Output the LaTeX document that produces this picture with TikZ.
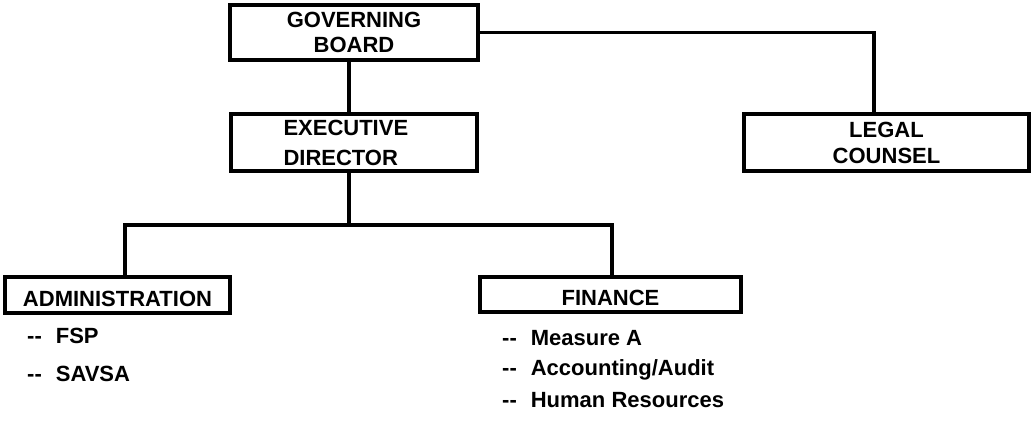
\documentclass[tikz,border=0pt]{standalone}
\usepackage{fontspec}
\setmainfont{Liberation Sans}

\tikzset{
  unit/.style={draw, line width=3.5pt, inner sep=0pt,
    font=\bfseries\fontsize{22}{25}\selectfont},
  wire/.style={line width=3.5pt},
  item/.style={anchor=base west, inner sep=0pt,
    font=\bfseries\fontsize{22}{25}\selectfont},
}
\newcommand{\dashlead}{-\kern0pt-\hspace{14pt}}

\begin{document}
\begin{tikzpicture}[x=1pt,y=-1pt]
\useasboundingbox (0,0) rectangle (1032,423);
% boxes
\node[unit, minimum width=248pt, minimum height=55pt, align=center] (gov) at (354,32.5) {GOVERNING\\BOARD};
\node[unit, minimum width=246pt, minimum height=57pt, align=left, text width=141pt,
  font=\bfseries\fontsize{22}{30}\selectfont] (exec) at (354,142.5) {EXECUTIVE\\DIRECTOR};
\node[unit, minimum width=285pt, minimum height=57pt, align=center,
  font=\bfseries\fontsize{22}{26}\selectfont] (legal) at (886.5,142.5) {LEGAL\\COUNSEL};
\node[unit, minimum width=225pt, minimum height=36pt, text height=23pt] (adm) at (117.5,295) {ADMINISTRATION};
\node[unit, minimum width=261pt, minimum height=35pt, text height=23pt] (fin) at (610.5,294.5) {FINANCE};
% connectors
\coordinate (bar) at (349,225);
\draw[wire] ([xshift=-5pt]gov.south) -- ([xshift=-5pt]exec.north);
\draw[wire] (gov.east) -| ([xshift=-12.5pt]legal.north);
\draw[wire] ([xshift=-5pt]exec.south) -- (bar);
\draw[wire] ([xshift=7.5pt]adm.north) |- (bar) -| ([xshift=1.5pt]fin.north);
% sub units
\node[item] (fsp) at (27,343) {\dashlead FSP};
\node[item] (savsa) at (27,381) {\dashlead SAVSA};
\node[item] (msra) at (502,345) {\dashlead Measure A};
\node[item] (acct) at (502,375) {\dashlead Accounting/Audit};
\node[item] (hr) at (502,407) {\dashlead Human Resources};
\end{tikzpicture}
\end{document}
